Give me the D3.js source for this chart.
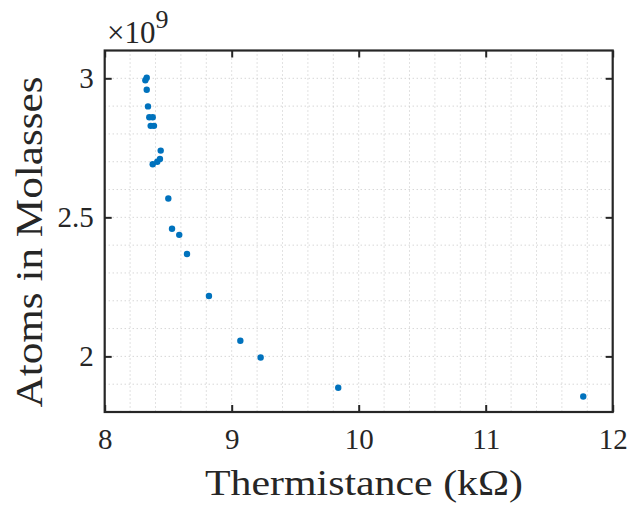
<!DOCTYPE html>
<html>
<head>
<meta charset="utf-8">
<script src="https://cdn.jsdelivr.net/npm/d3@7"></script>
<style>
  body { margin: 0; background: #fff; }
  svg { display: block; }
</style>
</head>
<body>
<div id="chart"></div>
<script>
// Thermistance (kOhm) vs atoms in molasses (x1e9)
const thermistance = [8.331, 8.320, 8.331, 8.341, 8.351, 8.378, 8.362, 8.388, 8.441, 8.435,
    8.414, 8.378, 8.501, 8.530, 8.587, 8.648, 8.821, 9.068, 9.228, 9.839, 11.768];
const atoms = [3.002, 2.993, 2.959, 2.899, 2.860, 2.860, 2.829, 2.829, 2.740, 2.710,
    2.700, 2.691, 2.568, 2.459, 2.437, 2.368, 2.217, 2.056, 1.996, 1.887, 1.856];
const xTicks = [8, 9, 10, 11, 12];
const yTicks = [2, 2.5, 3];
const xMinor = d3.range(8, 12.0001, 0.2);
const yMinor = d3.range(1.8, 3.1001, 0.1);

const width = 629, height = 506;
const margin = { top: 50.5, right: 16.3, bottom: 94, left: 104.7 };
const w = width - margin.left - margin.right;
const h = height - margin.top - margin.bottom;
const ink = '#262626';
const serif = 'Liberation Serif';

const svg = d3.select('#chart').append('svg')
    .attr('width', width)
    .attr('height', height)
    .attr('font-family', serif);

const g = svg.append('g')
    .attr('transform', `translate(${margin.left},${margin.top})`);

const x = d3.scaleLinear().domain([8, 12]).range([0, w]);
const y = d3.scaleLinear().domain([1.8, 3.1]).range([h, 0]);

// Grid (major + minor, dotted)
g.append('g')
    .selectAll('line')
    .data(xMinor)
    .join('line')
    .attr('x1', d => x(d)).attr('x2', d => x(d))
    .attr('y1', 0).attr('y2', h)
    .attr('stroke', '#c4c4c4')
    .attr('stroke-width', 1)
    .attr('stroke-dasharray', '1,3');

g.append('g')
    .selectAll('line')
    .data(yMinor)
    .join('line')
    .attr('x1', 0).attr('x2', w)
    .attr('y1', d => y(d)).attr('y2', d => y(d))
    .attr('stroke', '#c4c4c4')
    .attr('stroke-width', 1)
    .attr('stroke-dasharray', '1,3');

// Points
g.append('g')
    .selectAll('circle')
    .data(thermistance.map((t, i) => ({ t, a: atoms[i] })))
    .join('circle')
    .attr('cx', d => x(d.t))
    .attr('cy', d => y(d.a))
    .attr('r', 3.2)
    .attr('fill', '#0072BD');

// Axes (ticks inward on all four sides)
const tickLen = 7;
function styleAxis(sel) {
    sel.attr('font-family', serif).attr('font-size', 29);
    sel.select('.domain').remove();
    sel.selectAll('.tick line').attr('stroke', ink).attr('stroke-width', 2);
    sel.selectAll('.tick text').attr('fill', ink).attr('font-family', serif);
}

g.append('g')
    .attr('transform', `translate(0,${h})`)
    .call(d3.axisBottom(x).tickValues(xTicks).tickSize(-tickLen).tickPadding(16).tickFormat(d3.format('d')))
    .call(styleAxis);

g.append('g')
    .call(d3.axisTop(x).tickValues(xTicks).tickSize(-tickLen).tickFormat(''))
    .call(styleAxis);

g.append('g')
    .call(d3.axisLeft(y).tickValues(yTicks).tickSize(-tickLen).tickPadding(11).tickFormat(d => d))
    .call(styleAxis);

g.append('g')
    .attr('transform', `translate(${w},0)`)
    .call(d3.axisRight(y).tickValues(yTicks).tickSize(-tickLen).tickFormat(''))
    .call(styleAxis);

// Box
g.append('rect')
    .attr('width', w)
    .attr('height', h)
    .attr('fill', 'none')
    .attr('stroke', ink)
    .attr('stroke-width', 2.2);

// Exponent label
const expo = svg.append('text')
    .attr('x', 107)
    .attr('y', 43)
    .attr('fill', ink)
    .attr('font-family', serif)
    .attr('font-size', 31);
expo.append('tspan').text('\u00d710');
expo.append('tspan').attr('dy', -15).attr('font-size', 26).text('9');

// Axis labels
svg.append('text')
    .attr('x', 364)
    .attr('y', 495)
    .attr('text-anchor', 'middle')
    .attr('fill', ink)
    .attr('font-family', serif)
    .attr('font-size', 36)
    .attr('textLength', 318)
    .attr('lengthAdjust', 'spacingAndGlyphs')
    .text('Thermistance (k\u03a9)');

svg.append('text')
    .attr('transform', 'translate(42,242) rotate(-90)')
    .attr('text-anchor', 'middle')
    .attr('fill', ink)
    .attr('font-family', serif)
    .attr('font-size', 38)
    .attr('textLength', 331)
    .attr('lengthAdjust', 'spacingAndGlyphs')
    .text('Atoms in Molasses');
</script>
</body>
</html>
